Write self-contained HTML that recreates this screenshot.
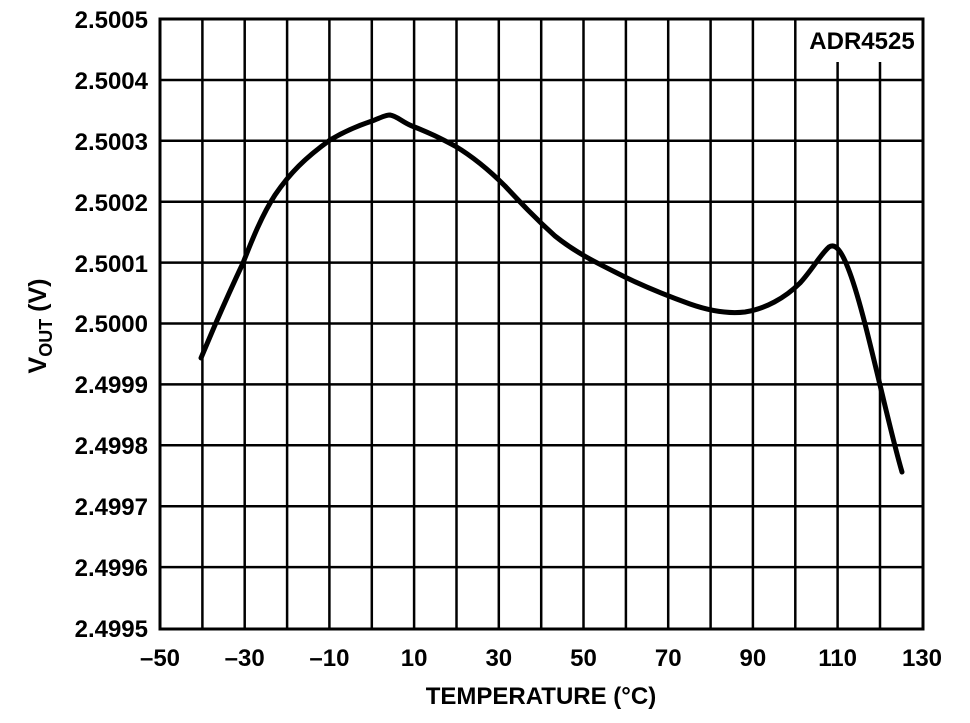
<!DOCTYPE html>
<html><head><meta charset="utf-8"><style>
html,body{margin:0;padding:0;background:#fff;}
svg{display:block;font-family:"Liberation Sans",Arial,sans-serif;font-weight:bold;}
</style></head><body>
<svg width="970" height="723" viewBox="0 0 970 723" xmlns="http://www.w3.org/2000/svg">
<g stroke="#000" stroke-width="2.5">
<line x1="202.4" y1="19" x2="202.4" y2="629"/>
<line x1="244.7" y1="19" x2="244.7" y2="629"/>
<line x1="287.1" y1="19" x2="287.1" y2="629"/>
<line x1="329.4" y1="19" x2="329.4" y2="629"/>
<line x1="371.8" y1="19" x2="371.8" y2="629"/>
<line x1="414.1" y1="19" x2="414.1" y2="629"/>
<line x1="456.5" y1="19" x2="456.5" y2="629"/>
<line x1="498.8" y1="19" x2="498.8" y2="629"/>
<line x1="541.2" y1="19" x2="541.2" y2="629"/>
<line x1="583.5" y1="19" x2="583.5" y2="629"/>
<line x1="625.9" y1="19" x2="625.9" y2="629"/>
<line x1="668.2" y1="19" x2="668.2" y2="629"/>
<line x1="710.6" y1="19" x2="710.6" y2="629"/>
<line x1="752.9" y1="19" x2="752.9" y2="629"/>
<line x1="795.3" y1="19" x2="795.3" y2="629"/>
<line x1="837.6" y1="19" x2="837.6" y2="629"/>
<line x1="880" y1="19" x2="880" y2="629"/>
<line x1="160" y1="80" x2="923" y2="80"/>
<line x1="160" y1="140.8" x2="923" y2="140.8"/>
<line x1="160" y1="201.7" x2="923" y2="201.7"/>
<line x1="160" y1="262.6" x2="923" y2="262.6"/>
<line x1="160" y1="323.5" x2="923" y2="323.5"/>
<line x1="160" y1="384.4" x2="923" y2="384.4"/>
<line x1="160" y1="445.3" x2="923" y2="445.3"/>
<line x1="160" y1="506.2" x2="923" y2="506.2"/>
<line x1="160" y1="567.1" x2="923" y2="567.1"/>
</g>
<rect x="798" y="20" width="124" height="42" fill="#fff"/>
<rect x="160" y="19" width="763" height="610" fill="none" stroke="#000" stroke-width="3"/>
<text x="862" y="49" font-size="24" text-anchor="middle">ADR4525</text>
<path d="M201,358 L215,325 C225,302 235,280 243,263 C252,240 262,215 275,195 C290,173 305,158 330,140 C345,131 360,125 372,121 C380,118 385,115 390,115 C397,116 402,122 412,126 C430,133 440,138 455,146 C475,158 490,171 505,186 C520,202 535,218 555,236 C575,252 595,262 615,272 C640,285 665,295 690,304 C710,311 728,314 745,312 C765,309 785,298 800,283 C812,270 820,255 829,247 C835,243 841,250 848,268 C858,293 868,335 880,385 C888,418 895,448 902,472" fill="none" stroke="#000" stroke-width="5" stroke-linecap="round" stroke-linejoin="round"/>
<g font-size="24" text-anchor="end">
<text x="148" y="28">2.5005</text>
<text x="148" y="89">2.5004</text>
<text x="148" y="150">2.5003</text>
<text x="148" y="211">2.5002</text>
<text x="148" y="272">2.5001</text>
<text x="148" y="332">2.5000</text>
<text x="148" y="393">2.4999</text>
<text x="148" y="454">2.4998</text>
<text x="148" y="515">2.4997</text>
<text x="148" y="576">2.4996</text>
<text x="148" y="637">2.4995</text>
</g>
<g font-size="24" text-anchor="middle">
<text x="160" y="666">–50</text>
<text x="244.7" y="666">–30</text>
<text x="329.4" y="666">–10</text>
<text x="414.1" y="666">10</text>
<text x="498.8" y="666">30</text>
<text x="583.5" y="666">50</text>
<text x="668.2" y="666">70</text>
<text x="752.9" y="666">90</text>
<text x="837.6" y="666">110</text>
<text x="922" y="666">130</text>
</g>
<text x="541" y="704" font-size="24" text-anchor="middle">TEMPERATURE (°C)</text>
<text transform="translate(46,326) rotate(-90)" font-size="25" text-anchor="middle">V<tspan font-size="18" dy="6">OUT</tspan><tspan dy="-6"> (V)</tspan></text>
</svg>
</body></html>
